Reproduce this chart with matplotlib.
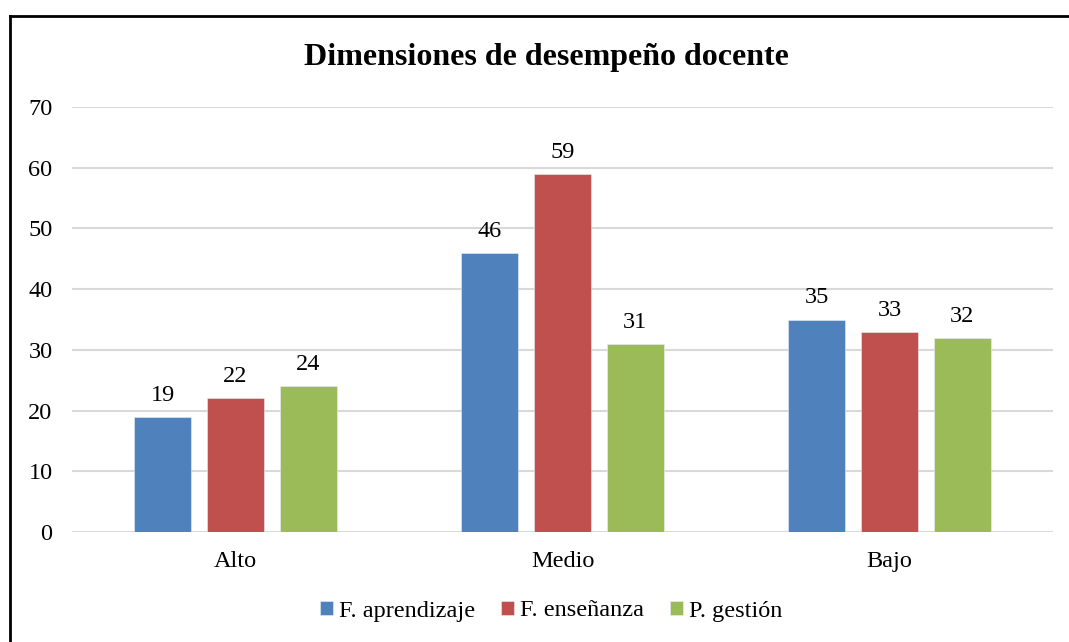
import matplotlib
matplotlib.use("Agg")
import matplotlib.pyplot as plt
from matplotlib.lines import Line2D
import numpy as np

categories = ["Alto", "Medio", "Bajo"]
series_names = ["F. aprendizaje", "F. enseñanza", "P. gestión"]
f_aprendizaje = [19, 46, 35]
f_ensenanza = [22, 59, 33]
p_gestion = [24, 31, 32]
colors = ["#4F81BD", "#C0504D", "#9BBB59"]
title = "Dimensiones de desempeño docente"
yticks = [0, 10, 20, 30, 40, 50, 60, 70]

plt.rcParams['font.family'] = ['Liberation Serif', 'DejaVu Serif']

fig = plt.figure(figsize=(10.69, 6.42), dpi=100)
ax = fig.add_axes([72/1069, 110/642, 981/1069, 425/642])

x = np.arange(len(categories))
width = 0.174
step = 0.222
series = [f_aprendizaje, f_ensenanza, p_gestion]
for i, (vals, name, c) in enumerate(zip(series, series_names, colors)):
    bars = ax.bar(x + (i - 1) * step, vals, width, color=c, edgecolor="#e8eef7", linewidth=0.4,
                  label=name, zorder=3)
    for b, v in zip(bars, vals):
        ax.annotate(str(v), (b.get_x() + b.get_width() / 2, v), xytext=(0, 8),
                    textcoords="offset points", ha="center", va="bottom", fontsize=17.5)

ax.set_xlim(-0.5, 2.5)
ax.set_ylim(0, 70)
ax.set_yticks(yticks)
ax.set_xticks(x)
ax.set_xticklabels(categories)
ax.tick_params(axis="both", length=0, labelsize=17.5)
ax.tick_params(axis="y", pad=14)
ax.tick_params(axis="x", pad=14)
ax.grid(axis="y", color="#D9D9D9", linewidth=1.5, zorder=0)
for s in ax.spines.values():
    s.set_visible(False)

fig.text(546/1069, 1 - 58/642, title, ha="center", va="center", fontsize=23, fontweight="bold")

leg = fig.legend(loc="center", bbox_to_anchor=(551/1069, 31/642), ncol=3, frameon=False, fontsize=17.5,
                 handlelength=0.55, handleheight=0.55, handletextpad=0.25, columnspacing=1.05)

# frame border (cropped at right and bottom)
fig.add_artist(Line2D([10/1069, 1.0], [1 - 16/642, 1 - 16/642], color="black", linewidth=2,
                      transform=fig.transFigure))
fig.add_artist(Line2D([10/1069, 10/1069], [0, 1 - 16/642], color="black", linewidth=2,
                      transform=fig.transFigure))

fig.savefig("out.png", dpi=100, facecolor="white")
